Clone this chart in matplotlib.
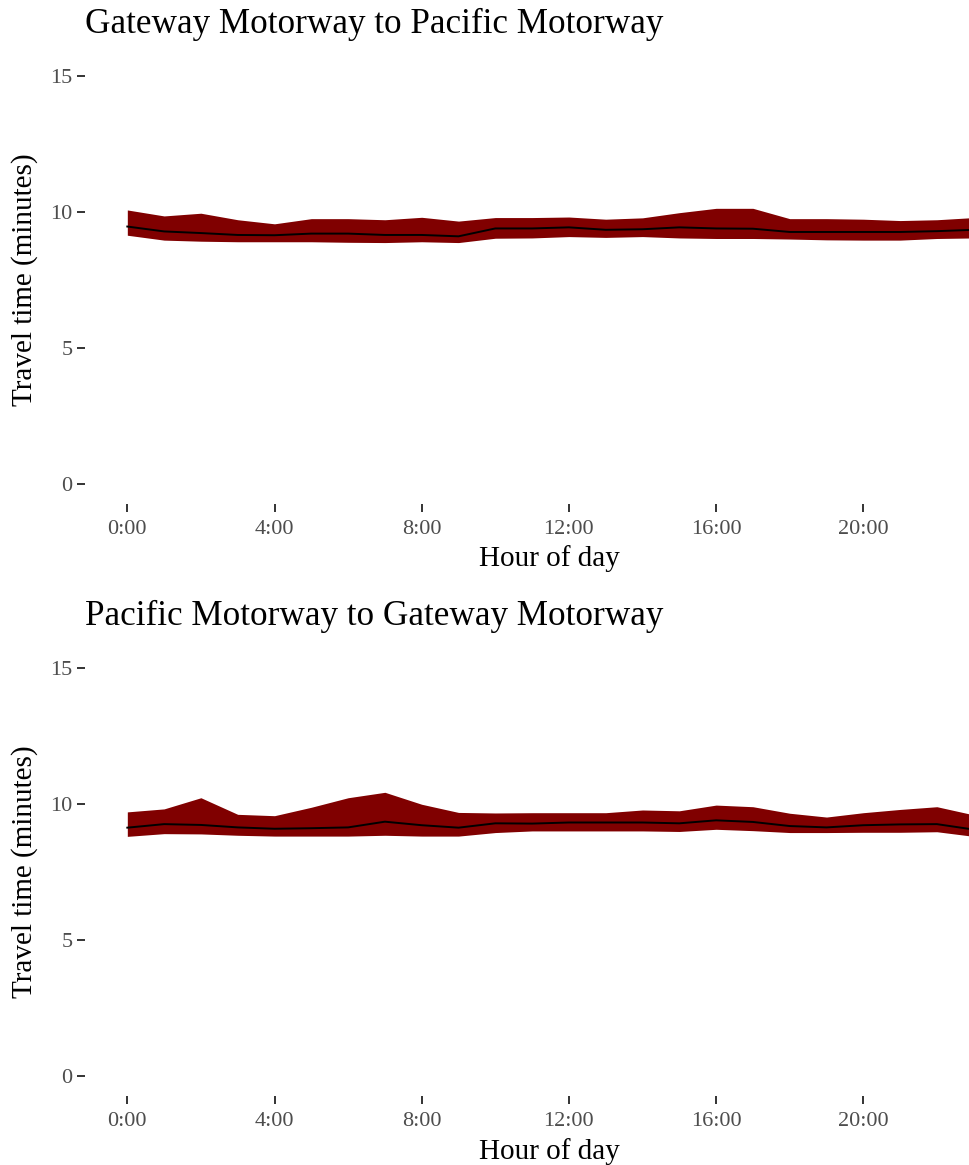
import matplotlib
matplotlib.use("Agg")
import matplotlib.pyplot as plt
import numpy as np

hours = list(range(24))
hour_ticks = [0, 4, 8, 12, 16, 20]
hour_labels = ["0:00", "4:00", "8:00", "12:00", "16:00", "20:00"]
y_ticks = [0, 5, 10, 15]

titles = ["Gateway Motorway to Pacific Motorway",
          "Pacific Motorway to Gateway Motorway"]

# Gateway -> Pacific
gp_upper = [10.07, 9.85, 9.95, 9.71, 9.56, 9.75, 9.75, 9.71, 9.80, 9.66, 9.79, 9.79,
            9.81, 9.73, 9.78, 9.97, 10.13, 10.13, 9.75, 9.75, 9.73, 9.68, 9.71, 9.79]
gp_median = [9.46, 9.28, 9.22, 9.15, 9.14, 9.20, 9.20, 9.15, 9.15, 9.10, 9.39, 9.39,
             9.43, 9.34, 9.36, 9.43, 9.39, 9.38, 9.26, 9.26, 9.26, 9.26, 9.29, 9.34]
gp_lower = [9.14, 8.96, 8.92, 8.90, 8.90, 8.90, 8.88, 8.87, 8.90, 8.87, 9.03, 9.04,
            9.09, 9.06, 9.09, 9.04, 9.02, 9.02, 9.00, 8.97, 8.96, 8.96, 9.02, 9.04]

# Pacific -> Gateway
pg_upper = [9.71, 9.82, 10.23, 9.62, 9.57, 9.88, 10.23, 10.43, 9.99, 9.69, 9.67, 9.68,
            9.68, 9.68, 9.78, 9.75, 9.96, 9.90, 9.66, 9.52, 9.68, 9.80, 9.90, 9.60]
pg_median = [9.13, 9.26, 9.23, 9.14, 9.09, 9.11, 9.14, 9.35, 9.22, 9.13, 9.29, 9.28,
             9.32, 9.32, 9.32, 9.29, 9.40, 9.34, 9.19, 9.14, 9.22, 9.25, 9.26, 9.06]
pg_lower = [8.81, 8.91, 8.90, 8.85, 8.82, 8.82, 8.82, 8.85, 8.82, 8.82, 8.95, 9.01,
            9.01, 9.01, 9.01, 8.99, 9.07, 9.02, 8.95, 8.95, 8.96, 8.96, 8.98, 8.81]

series = [(gp_lower, gp_median, gp_upper), (pg_lower, pg_median, pg_upper)]

plt.rcParams['font.family'] = ['Liberation Serif', 'DejaVu Serif']

W, H = 970, 1165
fig = plt.figure(figsize=(W / 100, H / 100), dpi=100)

# panel pixel geometry: (top, bottom)
panels = [(55.6, 504.0), (647.6, 1096.4)]
left_px = 85.0
x_lo = -1.15
x_hi = x_lo + (W - left_px) / 36.8

for i, ((top, bot), (lo, med, up)) in enumerate(zip(panels, series)):
    ax = fig.add_axes([left_px / W, 1 - bot / H, (W - left_px) / W, (bot - top) / H])
    ax.fill_between(hours, lo, up, color="#800000", linewidth=0)
    ax.plot(hours, med, color="black", lw=1.4)
    ax.set_xlim(x_lo, x_hi)
    ax.set_ylim(-0.75, 15.75)
    for s in ax.spines.values():
        s.set_visible(False)
    ax.set_xticks(hour_ticks)
    ax.set_xticklabels(hour_labels)
    ax.set_yticks(y_ticks)
    ax.set_yticklabels([str(v) for v in y_ticks])
    ax.tick_params(axis="both", colors="#333333", labelcolor="#4D4D4D",
                   labelsize=16, length=6, width=1.4)
    ax.tick_params(axis="x", pad=5.5)
    ax.tick_params(axis="y", pad=3)
    ax.set_facecolor("none")
    # titles and axis labels
    fig.text(left_px / W, 1 - (top - 31) / H, titles[i], fontsize=25.3,
             ha="left", va="center", color="black")
    fig.text(549 / W, 1 - (bot + 55) / H, "Hour of day", fontsize=21,
             ha="center", va="center", color="black")
    fig.text(25 / W, 1 - ((top + bot) / 2) / H, "Travel time (minutes)", fontsize=21,
             ha="center", va="center", rotation=90, color="black")

fig.savefig("out.png", dpi=100)
